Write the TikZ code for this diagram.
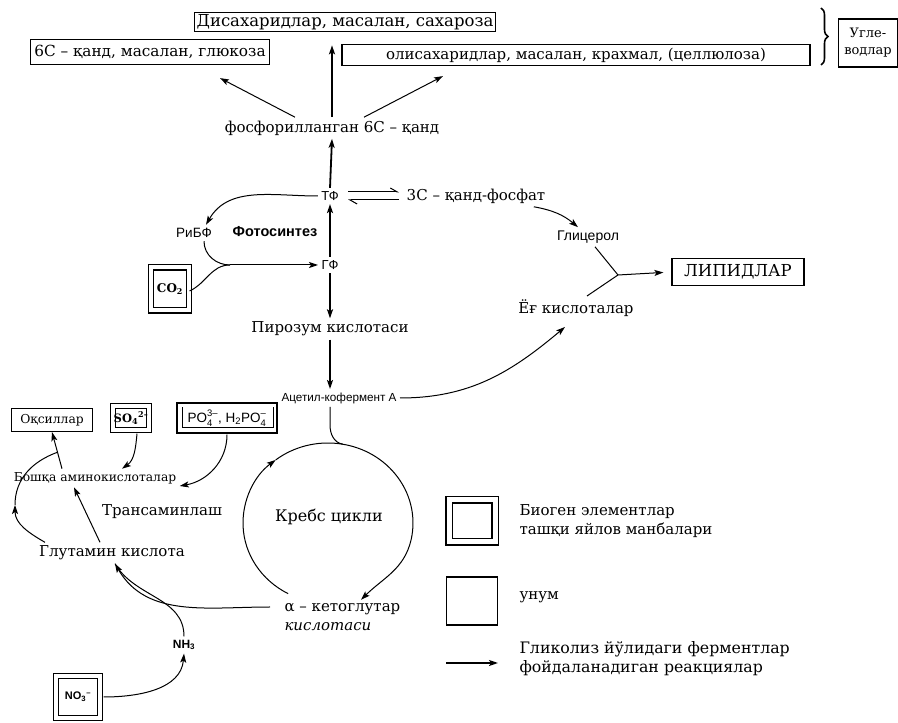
\documentclass[tikz,border=0pt]{standalone}
\usepackage{amsmath}
\usepackage{fontspec}
\setmainfont{DejaVu Serif}
\setsansfont{Liberation Sans}
\usepackage{tikz}
\usetikzlibrary{arrows.meta,calc,positioning,decorations.pathreplacing}

\begin{document}
\begin{tikzpicture}[x=1pt,y=1pt,
  txt/.style={font=\fontsize{15}{19}\selectfont},
  big/.style={font=\fontsize{16.5}{20}\selectfont},
  small/.style={font=\fontsize{12.3}{15}\selectfont},
  lbl/.style={font=\sffamily\fontsize{13}{16}\selectfont},
  box/.style={draw,line width=1.2pt,inner sep=3pt,txt},
  src/.style={draw,double,double distance=4pt,line width=1.2pt,inner sep=1pt},
  arr/.style={-{Stealth[length=9pt,width=6pt,inset=2pt]},line width=1pt},
  tarr/.style={arr,line width=1.8pt},
  ln/.style={line width=1pt}]
  \useasboundingbox (0,0) rectangle (898,723);

  % uglevodlar
  \node[box,big,inner sep=2pt] (disac) at (345,701) {Дисахаридлар, масалан, сахароза};
  \node[box,font=\fontsize{15.3}{19}\selectfont,minimum width=239pt,minimum height=25pt,inner sep=1pt] (gluc) at (150,671) {6С – қанд, масалан, глюкоза};
  \node[box,minimum width=468pt,minimum height=21pt,inner sep=1pt] (olisac) at (576,668) {олисахаридлар, масалан, крахмал, (целлюлоза)};
  \draw[decorate,decoration={brace,amplitude=7pt},line width=1.6pt] (821,715) -- (821,658);
  \node[box,align=center,font=\fontsize{13}{17}\selectfont,minimum width=59pt,minimum height=48pt,inner sep=1pt] (ugle) at (868,680) {Угле-\\водлар};
  \node[txt] (phos) at (332,595) {фосфорилланган 6С – қанд};
  \draw[arr] ([xshift=-37pt]phos.north) -- ([xshift=70pt,yshift=-13pt]gluc.south);
  \draw[tarr,shorten >=13pt] (phos.north) -- (phos.north |- disac.south);
  \draw[arr] ([xshift=32pt]phos.north) -- ([xshift=-133pt,yshift=-10pt]olisac.south);

  % fotosintez
  \node[lbl] (TF) at (330,527) {ТФ};
  \node[txt] (C3) at (476,527) {3С – қанд-фосфат};
  \draw[-{Straight Barb[left,length=7pt,width=8pt]},ln] ([xshift=6pt,yshift=4pt]TF.east) -- ([xshift=-4pt,yshift=4pt]C3.west);
  \draw[-{Straight Barb[left,length=7pt,width=8pt]},ln] ([xshift=-4pt,yshift=-4pt]C3.west) -- ([xshift=6pt,yshift=-4pt]TF.east);
  \draw[tarr] (TF.north) -- (phos.south);
  \node[lbl,font=\sffamily\fontsize{13.5}{16}\selectfont] (RiBF) at (194,490) {РиБФ};
  \node[font=\sffamily\bfseries\fontsize{14.5}{17}\selectfont] (fotos) at (275,491) {Фотосинтез};
  \draw[arr] (TF.west) to[out=180,in=60] ([xshift=12pt]RiBF.north);
  \node[lbl] (GF) at (330,458) {ГФ};
  \coordinate (mrg) at (230,458);
  \node[src,minimum width=38pt,minimum height=43pt] (co2) at (170,434) {\textbf{\fontsize{12}{14}\selectfont CO\textsubscript{2}}};
  \draw[ln] ([xshift=10pt]RiBF.south) to[out=-90,in=180] (mrg);
  \draw[ln] ([yshift=-2pt]co2.east) to[out=25,in=180] (mrg);
  \draw[arr] (mrg) -- (GF.west);
  \draw[tarr] (GF.north) -- (TF.south);
  \node[txt] (piro) at (330,394) {Пирозум кислотаси};
  \draw[tarr] (GF.south) -- (piro.north);
  \node[font=\sffamily\fontsize{11.7}{14}\selectfont] (acet) at (339,325) {Ацетил-кофермент А};
  \draw[tarr] (piro.south) -- (piro.south |- acet.north);

  % lipidlar
  \node[lbl,font=\sffamily\fontsize{14}{16}\selectfont] (glyc) at (588,486) {Глицерол};
  \node[txt] (yog) at (576,415) {Ёғ кислоталар};
  \draw[arr] ([xshift=-15pt]C3.south east) to[out=-10,in=140] ([xshift=-10pt]glyc.north);
  \coordinate (jn) at (618,448);
  \draw[ln] ([xshift=7pt]glyc.south) -- (jn);
  \draw[ln] ([xshift=11pt]yog.north) -- (jn);
  \node[box,font=\fontsize{16.5}{20}\selectfont,minimum width=132pt,minimum height=27pt] (lipid) at (738,451) {ЛИПИДЛАР};
  \draw[arr,shorten >=8pt] (jn) -- (lipid.west);
  \draw[arr] (acet.east) to[out=0,in=220] ([xshift=-11pt,yshift=-7pt]yog.south);

  % krebs
  \node[txt,font=\fontsize{16}{19}\selectfont] (krebs) at (329,206) {Кребс цикли};
  \coordinate (kc) at (328,200);
  \draw[ln] (piro.south |- acet.south) -- ++(0,-18) to[out=-90,in=170] ([shift={(80:85 and 80)}]kc);
  \draw[arr] ([shift={(242:85 and 80)}]kc) arc[start angle=242,end angle=128,x radius=85,y radius=80];
  \node[txt,align=left,anchor=west] (alpha) at (281,106) {α – кетоглутар\\\textit{кислотаси}};
  \draw[arr] ([shift={(128:85 and 80)}]kc) arc[start angle=128,end angle=-12,x radius=85,y radius=80]
    to[out=-103,in=45] ([xshift=80pt]alpha.north west);

  % aminokislotalar
  \node[txt] (glut) at (112,170) {Глутамин кислота};
  \node[small] (bosh) at (95,245) {Бошқа аминокислоталар};
  \node[txt] (trans) at (162,211) {Трансаминлаш};
  \node[box,small,minimum width=81pt,minimum height=23pt] (okc) at (52,303) {Оқсиллар};
  \node[src,minimum width=36pt,minimum height=24pt] (so4) at (131,305) {\textbf{\fontsize{11.5}{13}\selectfont SO\textsubscript{4}\textsuperscript{2–}}};
  \node[draw,line width=1.2pt,minimum width=100pt,minimum height=30pt,font=\sffamily\fontsize{13.5}{15}\selectfont] (po4) at (227,305) {$\textsf{PO}_{\textsf{4}}^{\textsf{3–}}$, $\textsf{H}_{\textsf{2}}\textsf{PO}_{\textsf{4}}^{\textsf{–}}$};
  \draw[line width=1.2pt] ([shift={(6pt,-5pt)}]po4.north west) |- ([shift={(-4pt,6pt)}]po4.south east) -- ([shift={(-4pt,-5pt)}]po4.north east);
  \draw[arr] ([xshift=-33pt]bosh.north) -- (okc.south);
  \coordinate (lp) at (15,218);
  \draw[arr] ([xshift=-67pt]glut.north) to[out=150,in=-90] (lp);
  \draw[ln] (lp) to[out=90,in=200] ($([xshift=-33pt]bosh.north)!0.45!(okc.south)$);
  \draw[arr] ([xshift=-12pt]glut.north) -- ([xshift=-21pt]bosh.south);
  \draw[arr] ([xshift=6pt,yshift=-3pt]so4.south) to[out=-95,in=35] ([xshift=27pt]bosh.north);
  \draw[arr] ([yshift=-1pt]po4.south) to[out=-90,in=10] ([yshift=-8pt]bosh.east);
  \draw[arr] ([xshift=-11pt,yshift=10pt]alpha.west) to[out=180,in=-60] ([xshift=3pt]glut.south);
  \node[font=\sffamily\bfseries\fontsize{12}{14}\selectfont] (nh3) at (184,78) {NH\textsubscript{3}};
  \draw[ln] (nh3.north) to[out=90,in=-60] ([xshift=3pt]glut.south);
  \node[src,minimum width=44pt,minimum height=42pt] (no3) at (78,26) {\textbf{\sffamily\fontsize{11}{13}\selectfont NO\textsubscript{3}\textsuperscript{–}}};
  \draw[arr] ([xshift=3pt]no3.east) to[out=0,in=-95] (nh3.south);

  % legend
  \node[src,minimum width=46pt,minimum height=42pt,double distance=5pt] (legsrc) at (472,202) {};
  \node[txt,align=left,anchor=west] (legsrct) at (516,202) {Биоген элементлар\\ташқи яйлов манбалари};
  \node[draw,line width=1.3pt,minimum width=51pt,minimum height=48pt] (legbox) at (472,122) {};
  \node[txt,anchor=west] (legboxt) at (516,126) {унум};
  \node[txt,align=left,anchor=west,font=\fontsize{15.8}{19}\selectfont] (legarrt) at (516,64) {Гликолиз йўлидаги ферментлар\\фойдаланадиган реакциялар};
  \draw[arr,line width=1.5pt] ([xshift=-70pt,yshift=-4pt]legarrt.west) -- ([xshift=-18pt,yshift=-4pt]legarrt.west);
\end{tikzpicture}
\end{document}
